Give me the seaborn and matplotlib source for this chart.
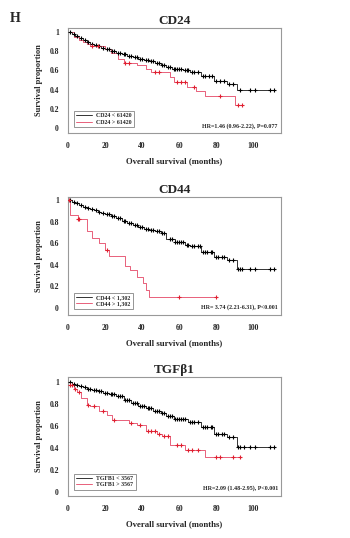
import numpy as np
import pandas as pd
import matplotlib
matplotlib.use("Agg")
import matplotlib.pyplot as plt
import seaborn as sns

# ---- data ----
# step points (time, survival) for each curve, end of follow-up, censor times
cd24_low_t = [0, 2, 4, 6, 8, 10, 12, 14, 16, 18, 20, 23, 26, 29, 32, 35, 38, 41, 44, 47, 50, 53, 56, 62, 66, 72, 79, 86, 91]
cd24_low_s = [1.0, 0.98, 0.96, 0.94, 0.92, 0.90, 0.88, 0.86, 0.85, 0.83, 0.82, 0.80, 0.78, 0.77, 0.75, 0.74, 0.72, 0.71, 0.70, 0.68, 0.66, 0.64, 0.62, 0.60, 0.58, 0.54, 0.49, 0.46, 0.40]
cd24_low_cens = [1, 3, 5, 7, 9, 11, 13, 15, 17, 19, 21, 22, 24, 25, 27, 28, 30, 31, 33, 34, 36, 37, 39, 40, 42, 43, 45, 46, 48, 49, 51, 52, 54, 55, 57, 58, 59, 60, 61, 63, 64, 65, 67, 68, 70, 73, 74, 76, 78, 80, 82, 84, 87, 89, 93, 98, 101, 109, 111]
cd24_low_end = 111

cd24_high_t = [0, 3, 6, 8, 10, 12, 20, 23, 27, 30, 37, 42, 45, 55, 57, 64, 69, 74, 90]
cd24_high_s = [1.0, 0.95, 0.92, 0.90, 0.88, 0.85, 0.82, 0.78, 0.72, 0.68, 0.66, 0.61, 0.58, 0.53, 0.48, 0.43, 0.39, 0.33, 0.24]
cd24_high_cens = [13, 16, 31, 33, 47, 49, 59, 61, 63, 68, 82, 92, 94]
cd24_high_end = 94

cd44_low_t = [0, 2, 4, 6, 8, 10, 12, 14, 16, 18, 20, 23, 26, 29, 32, 35, 38, 41, 44, 47, 50, 53, 58, 63, 66, 72, 79, 86, 91]
cd44_low_s = [1.0, 0.98, 0.97, 0.95, 0.94, 0.93, 0.92, 0.91, 0.89, 0.88, 0.87, 0.85, 0.83, 0.81, 0.79, 0.77, 0.75, 0.73, 0.72, 0.71, 0.69, 0.64, 0.61, 0.585, 0.57, 0.52, 0.47, 0.44, 0.36]
cd44_low_cens = [1, 3, 5, 7, 9, 11, 13, 15, 17, 19, 21, 22, 24, 25, 27, 28, 30, 31, 33, 34, 36, 37, 39, 40, 42, 43, 45, 46, 48, 49, 51, 52, 55, 56, 58, 59, 60, 61, 62, 64, 65, 67, 68, 70, 71, 73, 74, 75, 77, 78, 80, 81, 83, 84, 87, 89, 92, 93, 94, 98, 101, 109, 111]
cd44_low_end = 111

cd44_high_t = [0, 1, 5.5, 10.5, 13, 17, 20, 22, 31, 33.5, 37, 40.7, 42, 44]
cd44_high_s = [1.0, 0.86, 0.82, 0.71, 0.645, 0.60, 0.54, 0.48, 0.39, 0.35, 0.29, 0.23, 0.17, 0.10]
cd44_high_cens = [0.5, 5.5, 6, 21, 60, 80]
cd44_high_end = 80

tgf_low_t = [0, 2, 4, 6, 8, 10, 13, 16, 19, 22, 26, 30, 34, 38, 42, 46, 50, 53, 57, 65, 72, 79, 86, 91]
tgf_low_s = [1.0, 0.98, 0.97, 0.96, 0.95, 0.94, 0.93, 0.92, 0.90, 0.89, 0.87, 0.84, 0.81, 0.78, 0.76, 0.74, 0.72, 0.69, 0.665, 0.64, 0.59, 0.53, 0.50, 0.41]
tgf_low_cens = [1, 3, 5, 7, 9, 11, 12, 14, 15, 17, 18, 20, 21, 23, 24, 25, 27, 28, 29, 31, 32, 33, 35, 36, 37, 39, 40, 41, 43, 44, 45, 47, 48, 49, 51, 52, 54, 55, 56, 58, 59, 60, 61, 62, 63, 66, 67, 68, 70, 73, 74, 75, 77, 78, 80, 81, 83, 84, 87, 89, 92, 93, 95, 98, 101, 109, 111]
tgf_low_end = 111

tgf_high_t = [0, 1, 3, 4.7, 7, 10, 12, 17, 21, 24, 33, 37, 42, 48, 51, 55, 63, 74]
tgf_high_s = [1.0, 0.97, 0.94, 0.91, 0.85, 0.79, 0.78, 0.74, 0.70, 0.65, 0.63, 0.61, 0.55, 0.53, 0.51, 0.43, 0.38, 0.32]
tgf_high_cens = [1, 2, 4, 6, 11, 14, 19, 25, 34, 39, 43, 45, 47, 49, 52, 54, 59, 61, 65, 67, 70, 80, 82, 89, 93]
tgf_high_end = 93

titles = ["CD24", "CD44", "TGFβ1"]
legend_low = ["CD24 < 61420", "CD44 < 1,302", "TGFB1 < 3567"]
legend_high = ["CD24 > 61420", "CD44 > 1,302", "TGFB1 > 3567"]
hr_texts = ["HR=1.46 (0.96-2.22), P=0.077", "HR= 3.74 (2.21-6.31), P<0.001", "HR=2.09 (1.48-2.95), P<0.001"]
x_ticks = [0, 20, 40, 60, 80, 100]
y_ticks = [0, 0.2, 0.4, 0.6, 0.8, 1]
y_ticklabels = ["0", "0.2", "0.4", "0.6", "0.8", "1"]

panels = [
    (cd24_low_t, cd24_low_s, cd24_low_cens, cd24_low_end, cd24_high_t, cd24_high_s, cd24_high_cens, cd24_high_end),
    (cd44_low_t, cd44_low_s, cd44_low_cens, cd44_low_end, cd44_high_t, cd44_high_s, cd44_high_cens, cd44_high_end),
    (tgf_low_t, tgf_low_s, tgf_low_cens, tgf_low_end, tgf_high_t, tgf_high_s, tgf_high_cens, tgf_high_end),
]

# ---- style ----
sns.set_style("white")
plt.rcParams['font.family'] = ['Liberation Serif', 'DejaVu Serif']
plt.rcParams['font.weight'] = 'bold'

BLACK = '#333333'
RED = '#e8607a'
RED_MK = '#e02030'

W, H = 350, 538
fig = plt.figure(figsize=(W / 100, H / 100), dpi=100)

# axes boxes in pixels: (top, bottom), ylim
boxes = [(28, 133, (-0.052, 1.042)), (197, 315, (-0.065, 1.028)), (377, 496, (-0.036, 1.045))]
left, right = 68, 281


def step_frame(t, s, end):
    tt = list(t) + [end]
    ss = list(s) + [s[-1]]
    return pd.DataFrame({'time': tt, 'surv': ss})


def censor_frame(t, s, cens):
    idx = np.searchsorted(np.array(t), np.array(cens), side='right') - 1
    return pd.DataFrame({'time': cens, 'surv': np.array(s)[idx]})


for i, (lt, ls, lc, le, ht, hs, hc, he) in enumerate(panels):
    top, bottom, ylim = boxes[i]
    ax = fig.add_axes([left / W, 1 - bottom / H, (right - left) / W, (bottom - top) / H])

    sns.lineplot(data=step_frame(lt, ls, le), x='time', y='surv', drawstyle='steps-post',
                 estimator=None, color=BLACK, lw=0.7, ax=ax, label=legend_low[i])
    sns.lineplot(data=step_frame(ht, hs, he), x='time', y='surv', drawstyle='steps-post',
                 estimator=None, color=RED, lw=0.7, ax=ax, label=legend_high[i])
    sns.scatterplot(data=censor_frame(lt, ls, lc), x='time', y='surv', marker='+', s=8,
                    color='black', linewidth=0.8, ax=ax, legend=False, zorder=3)
    sns.scatterplot(data=censor_frame(ht, hs, hc), x='time', y='surv', marker='+', s=8,
                    color=RED_MK, linewidth=0.8, ax=ax, legend=False, zorder=3)

    ax.set_xlim(0, 115)
    ax.set_ylim(*ylim)
    ax.set_xticks(x_ticks)
    ax.set_xticklabels([str(v) for v in x_ticks], fontsize=5.5, fontweight='bold')
    ax.set_yticks(y_ticks)
    ax.set_yticklabels(y_ticklabels, fontsize=5.5, fontweight='bold')
    ax.tick_params(axis='both', length=1.5, width=0.5, pad=5, color='#888888')
    for sp in ax.spines.values():
        sp.set_color('#999999')
        sp.set_linewidth(0.8)

    ax.set_xlabel('Overall survival (months)', fontsize=6.3, fontweight='bold', labelpad=5)
    ax.set_ylabel('Survival proportion', fontsize=6, fontweight='bold', labelpad=5)
    ax.set_title(titles[i], fontsize=9.5, fontweight='bold', pad=3)

    leg = ax.legend(loc='lower left', fontsize=4.2, frameon=True, fancybox=False,
                    handlelength=2.6, borderpad=0.4, labelspacing=0.2, bbox_to_anchor=(0.015, 0.03))
    leg.get_frame().set_edgecolor('#666666')
    leg.get_frame().set_linewidth(0.6)
    ax.text(0.985, 0.04, hr_texts[i], transform=ax.transAxes, ha='right', va='bottom',
            fontsize=4.3, fontweight='bold')

fig.text(10 / W, 1 - 19 / H, 'H', fontsize=10, fontweight='bold', va='center', ha='left')

fig.savefig('out.png', dpi=100)
